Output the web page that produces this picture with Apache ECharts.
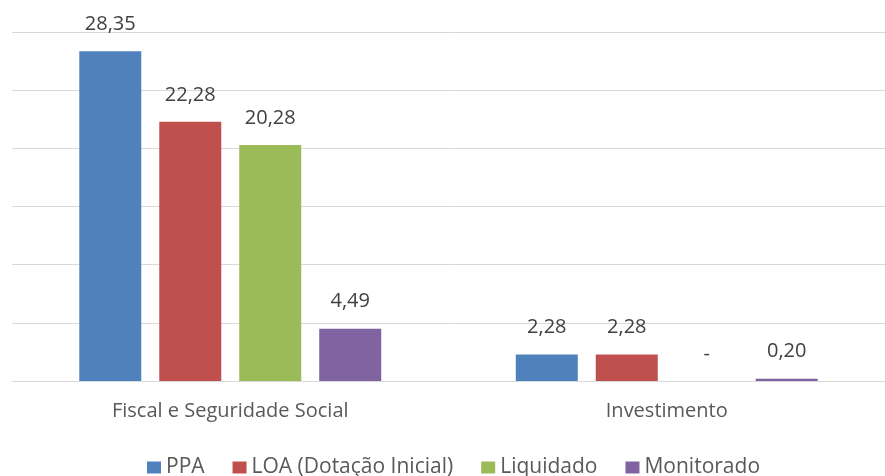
<!DOCTYPE html>
<html>
<head>
<meta charset="utf-8">
<script src="https://cdn.jsdelivr.net/npm/echarts@6/dist/echarts.min.js"></script>
<style>
  html, body { margin: 0; padding: 0; background: #fff; }
  #chart { width: 885px; height: 476px; }
</style>
</head>
<body>
<div id="chart"></div>
<script>
// dados
const categorias = ['Fiscal e Seguridade Social', 'Investimento'];
const ppa = [28.35, 2.28];
const loa = [22.28, 2.28];
const liquidado = [20.28, 0];
const monitorado = [4.49, 0.20];

const nomes = ['PPA', 'LOA (Dotação Inicial)', 'Liquidado', 'Monitorado'];
const cores = ['#4F81BD', '#C0504D', '#9BBB59', '#8064A2'];
const valores = [ppa, loa, liquidado, monitorado];

const fonte = '"Open Sans", "Noto Sans", sans-serif';

function fmt(p) {
    if (p.value === 0) return '-';
    return p.value.toFixed(2).replace('.', ',');
}

const chart = echarts.init(document.getElementById('chart'));
chart.setOption({
    animation: false,
    color: cores,
    grid: {
        left: 12,
        width: 878,
        top: 32,
        bottom: 95
    },
    legend: {
        bottom: -7,
        left: 142,
        itemWidth: 14,
        itemHeight: 12,
        itemGap: 28,
        icon: 'rect',
        textStyle: {
            fontFamily: fonte,
            fontSize: 21,
            color: '#595959'
        },
        data: nomes
    },
    xAxis: {
        type: 'category',
        data: categorias,
        axisLine: { lineStyle: { color: '#d9d9d9', width: 1 } },
        axisTick: { show: false },
        axisLabel: {
            fontFamily: fonte,
            fontSize: 20,
            color: '#595959',
            margin: 20
        }
    },
    yAxis: {
        type: 'value',
        min: 0,
        max: 30,
        interval: 5,
        axisLine: { show: false },
        axisTick: { show: false },
        axisLabel: { show: false },
        splitLine: { lineStyle: { color: '#d9d9d9', width: 1 } }
    },
    series: nomes.map((nome, i) => ({
        name: nome,
        type: 'bar',
        data: valores[i],
        barWidth: 62,
        barGap: '29%',
        itemStyle: { color: cores[i] },
        label: {
            show: true,
            position: 'top',
            distance: 17,
            formatter: fmt,
            fontFamily: fonte,
            fontSize: 20,
            color: '#404040'
        }
    }))
});
</script>
</body>
</html>
